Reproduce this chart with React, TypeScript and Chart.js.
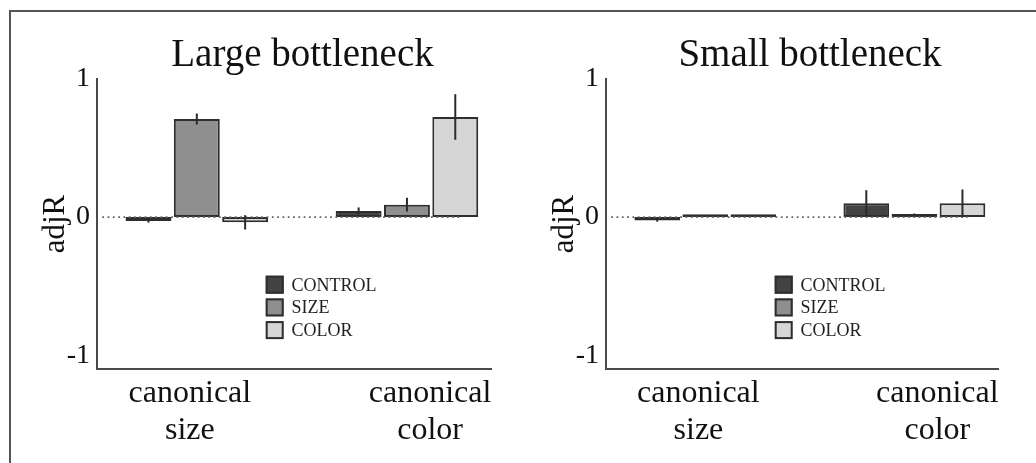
import React, { useEffect, useRef } from 'react';
import { Chart, registerables } from 'chart.js';

Chart.register(...registerables);

// ---------- data ----------
const seriesNames = ['CONTROL', 'SIZE', 'COLOR'];
const seriesFill = ['#434343', '#8f8f8f', '#d6d6d6'];
const groupX = [1, 2];
const xTickValues = [0.967, 2.11];
const xTickLabels = [['canonical', 'size'], ['canonical', 'color']];
const yTickValues = [-1, 0, 1];
const yTickLabels = ['-1', '0', '1'];
const zeroLineX = [0.55, 2.255];

const largeTitle = 'Large bottleneck';
const largeControl = [-0.028, 0.045];
const largeControlErr = [0.012, 0.025];
const largeSize = [0.71, 0.09];
const largeSizeErr = [0.04, 0.05];
const largeColor = [-0.038, 0.725];
const largeColorErr = [0.052, 0.165];

const smallTitle = 'Small bottleneck';
const smallControl = [-0.025, 0.1];
const smallControlErr = [0.008, 0.095];
const smallSize = [0.02, 0.022];
const smallSizeErr = [0, 0.004];
const smallColor = [0.02, 0.1];
const smallColorErr = [0, 0.1];

const FONT = "'Liberation Serif', 'Times New Roman', serif";

const errorBarPlugin = {
  id: 'errorBars',
  afterDatasetsDraw(chart: any) {
    const ctx = chart.ctx;
    const ys = chart.scales.y;
    chart.data.datasets.forEach((ds: any, i: number) => {
      if (!ds.errors) return;
      const meta = chart.getDatasetMeta(i);
      meta.data.forEach((el: any, j: number) => {
        const v = ds.data[j].y;
        const e = ds.errors[j];
        if (!e) return;
        ctx.save();
        ctx.strokeStyle = '#2b2b2b';
        ctx.lineWidth = 2;
        ctx.beginPath();
        ctx.moveTo(el.x, ys.getPixelForValue(v + e));
        ctx.lineTo(el.x, ys.getPixelForValue(v - e));
        ctx.stroke();
        ctx.restore();
      });
    });
  },
};

const innerLegendPlugin = {
  id: 'innerLegend',
  afterDraw(chart: any, _args: any, opts: any) {
    const { ctx, chartArea } = chart;
    const x0 = chartArea.left + opts.dx;
    let y = chartArea.top + opts.dy;
    const box = opts.box;
    chart.data.datasets.forEach((ds: any) => {
      if (ds.type !== 'bar') return;
      ctx.save();
      ctx.fillStyle = ds.backgroundColor;
      ctx.fillRect(x0, y, box, box);
      ctx.strokeStyle = '#2e2e2e';
      ctx.lineWidth = 2;
      ctx.strokeRect(x0 + 1, y + 1, box - 2, box - 2);
      ctx.fillStyle = '#222';
      ctx.font = `${opts.fontSize}px ${FONT}`;
      ctx.textBaseline = 'middle';
      ctx.textAlign = 'left';
      ctx.fillText(ds.label, x0 + box + opts.textGap, y + box / 2 + 1.3);
      ctx.restore();
      y += opts.step;
    });
  },
};

type PanelProps = {
  title: string;
  values: number[][];
  errors: number[][];
  left: number;
  top: number;
  width: number;
  height: number;
  axisW: number;
  rightW: number;
};

function Panel(p: PanelProps) {
  const ref = useRef<HTMLCanvasElement | null>(null);
  useEffect(() => {
    if (!ref.current) return;
    const datasets: any[] = seriesNames.map((name, k) => ({
      type: 'bar',
      label: name,
      data: groupX.map((x, j) => ({ x, y: p.values[k][j] })),
      errors: p.errors[k],
      backgroundColor: seriesFill[k],
      borderColor: '#2e2e2e',
      borderWidth: 2,
      borderSkipped: false,
      categoryPercentage: 0.69,
      barPercentage: 0.95,
      order: 1,
    }));
    datasets.push({
      type: 'line',
      label: '',
      data: zeroLineX.map((x) => ({ x, y: 0 })),
      borderColor: '#666666',
      borderWidth: 1.8,
      borderDash: [1.8, 3.5],
      pointRadius: 0,
      fill: false,
      order: 0,
    });
    const chart = new Chart(ref.current, {
      type: 'bar',
      data: { datasets },
      plugins: [errorBarPlugin, innerLegendPlugin],
      options: {
        animation: false,
        responsive: false,
        devicePixelRatio: 1,
        events: [],
        layout: { padding: 0 },
        plugins: {
          legend: { display: false },
          tooltip: { enabled: false },
          title: {
            display: true,
            text: p.title,
            color: '#111',
            font: { family: FONT, size: 39, weight: 'normal' },
            padding: { top: 19, bottom: 0.2 },
          },
          innerLegend: { dx: 168.7, dy: 196.7, box: 18, step: 22.7, textGap: 7.7, fontSize: 18 },
        } as any,
        scales: {
          x: {
            type: 'linear',
            min: 0.525,
            max: 2.4,
            offset: false,
            bounds: 'data',
            grid: { display: false, drawTicks: false, offset: false },
            border: { display: true, color: '#4a4a4a', width: 2 },
            ticks: {
              autoSkip: false,
              maxRotation: 0,
              padding: 5.3,
              color: '#111',
              font: { family: FONT, size: 32, lineHeight: 1.18 },
              callback: (_v: any, i: number) => xTickLabels[i],
            },
            afterBuildTicks: (s: any) => {
              s.ticks = xTickValues.map((v) => ({ value: v }));
            },
            afterFit: (s: any) => {
              s.height = p.height - 356;
            },
          },
          y: {
            type: 'linear',
            min: -1.1,
            max: 1,
            bounds: 'data',
            grid: { display: false, drawTicks: false },
            border: { display: true, color: '#4a4a4a', width: 2 },
            ticks: {
              padding: 7,
              color: '#111',
              font: { family: FONT, size: 28 },
              callback: (v: any) => {
                const idx = yTickValues.indexOf(v);
                return idx >= 0 ? yTickLabels[idx] : '';
              },
            },
            title: {
              display: true,
              text: 'adjR',
              color: '#111',
              font: { family: FONT, size: 31 },
              padding: { top: 24.9, bottom: 0 },
            },
            afterBuildTicks: (s: any) => {
              s.ticks = yTickValues.map((v) => ({ value: v }));
            },
            afterFit: (s: any) => {
              s.width = p.axisW;
            },
          },
          yR: {
            type: 'linear',
            position: 'right',
            display: true,
            grid: { display: false, drawTicks: false },
            border: { display: false },
            ticks: { display: false },
            afterFit: (s: any) => {
              s.width = p.rightW;
            },
          },
        } as any,
      },
    } as any);
    return () => chart.destroy();
  }, []);
  return (
    <canvas
      ref={ref}
      width={p.width}
      height={p.height}
      style={{ position: 'absolute', left: p.left, top: p.top, width: p.width, height: p.height }}
    />
  );
}

export default function App() {
  return (
    <div
      style={{
        position: 'fixed',
        left: 0,
        top: 0,
        width: 1036,
        height: 463,
        overflow: 'hidden',
        background: '#ffffff',
      }}
    >
      <div
        style={{
          position: 'absolute',
          left: 9,
          top: 10,
          width: 1200,
          height: 800,
          borderLeft: '2px solid #555',
          borderTop: '2px solid #555',
        }}
      />
      <Panel
        title={largeTitle}
        values={[largeControl, largeSize, largeColor]}
        errors={[largeControlErr, largeSizeErr, largeColorErr]}
        left={12}
        top={13}
        width={581}
        height={450}
        axisW={85}
        rightW={102}
      />
      <Panel
        title={smallTitle}
        values={[smallControl, smallSize, smallColor]}
        errors={[smallControlErr, smallSizeErr, smallColorErr]}
        left={521}
        top={13}
        width={578}
        height={450}
        axisW={85}
        rightW={101}
      />
    </div>
  );
}
